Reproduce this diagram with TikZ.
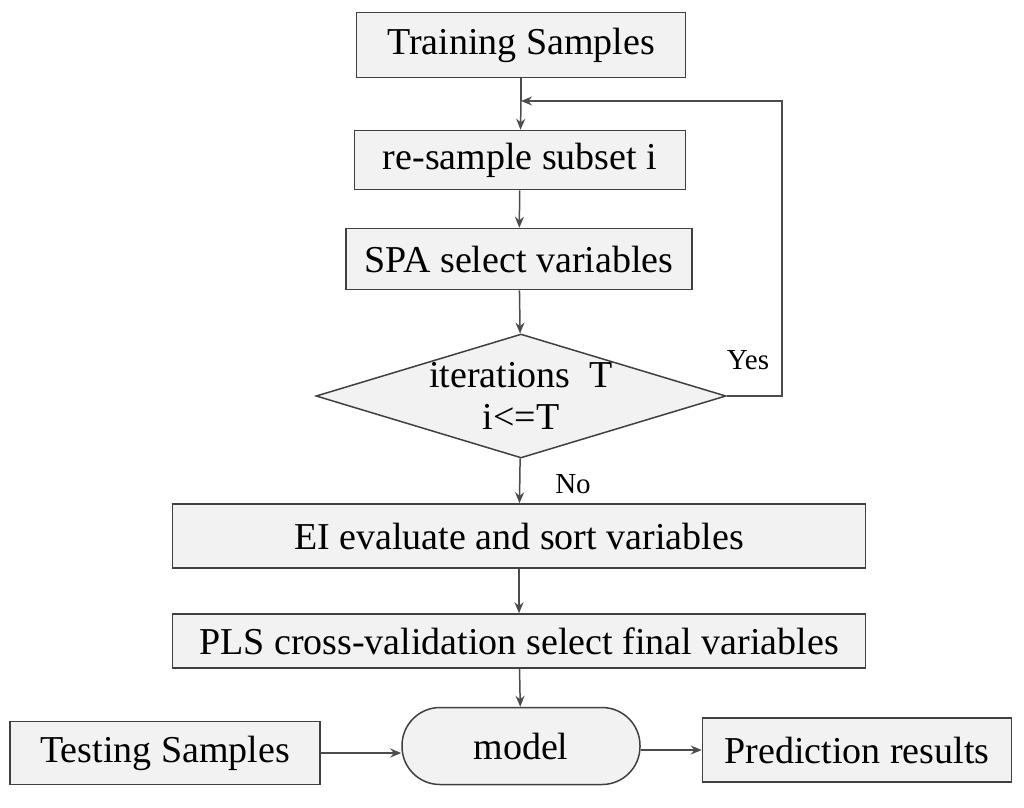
\documentclass[tikz,border=0pt]{standalone}
\usepackage{fontspec}
\setmainfont{Liberation Serif}
\usetikzlibrary{shapes.geometric,arrows.meta}
\begin{document}
\begin{tikzpicture}[x=1pt,y=-1pt,
  box/.style={draw=black!75,line width=1.5pt,fill=black!5,inner sep=0pt,font=\fontsize{38}{44}\selectfont},
  arr/.style={draw=black!70,line width=1.5pt,-{Stealth[length=11pt,width=9pt]}},
  lab/.style={font=\fontsize{29}{34}\selectfont}]
\useasboundingbox (0,0) rectangle (1024,807);
\node[box,minimum width=329pt,minimum height=65pt] (ts) at (521,45) {Training Samples};
\node[box,minimum width=331pt,minimum height=59pt] (rs) at (520,160) {re-sample subset i};
\node[box,minimum width=346pt,minimum height=61pt] (spa) at (519,259) {SPA select variables};
\node[box,diamond,aspect=3.3,minimum width=410pt,minimum height=124pt,inner sep=0pt,align=center,font=\fontsize{38}{42}\selectfont] (it) at (521,396) {};
\node[font=\fontsize{38}{42}\selectfont,align=center] (itl) at (521,396) {iterations\ \ T\\i<=T};
\node[box,minimum width=693pt,minimum height=64pt] (ei) at (519,536) {EI evaluate and sort variables};
\node[box,minimum width=693pt,minimum height=54pt] (pls) at (519,641) {PLS cross-validation select final variables};
\node[box,rounded corners=38pt,minimum width=238pt,minimum height=77pt] (mo) at (521,746) {model};
\node[box,minimum width=310pt,minimum height=63pt] (te) at (165,753) {Testing Samples};
\node[box,minimum width=309pt,minimum height=64pt] (pr) at (857,750) {Prediction results};
\coordinate (j) at (521,101);
\draw[draw=black!70,line width=1.5pt] (ts) -- (ts.south|-j);
\draw[arr] (ts.south|-j) -- (rs);
\draw[arr] (rs) -- (spa);
\draw[arr] (spa) -- (it);
\draw[arr] (it) -- (ei);
\draw[arr] (ei) -- (pls);
\draw[arr] (pls) -- (mo);
\draw[arr] (te) -- (mo.west|-te);
\draw[arr] (mo.east|-pr) -- (pr);
\draw[arr] (it.east) -- (782,396) -- (782,101) -- (j);
\node[lab] (yes) at (748,360) {Yes};
\node[lab] (no) at (573,484) {No};
\end{tikzpicture}
\end{document}
